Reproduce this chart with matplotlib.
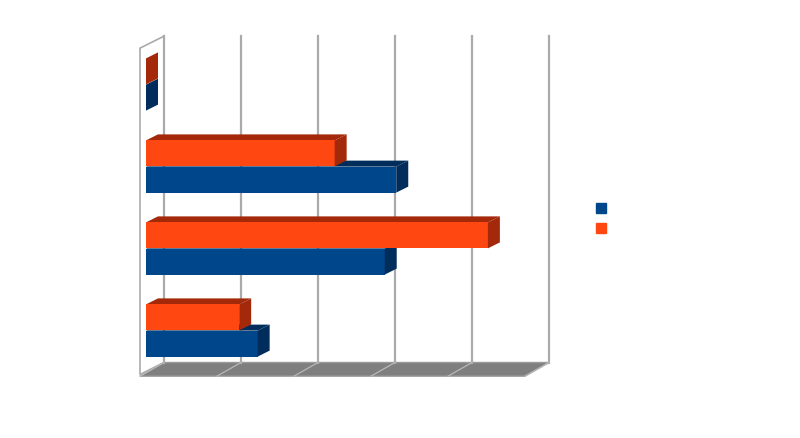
import matplotlib.pyplot as plt
from matplotlib.patches import Polygon, Patch

# values (one gridline step = 1 unit), top category first
blue_vals = [0.0, 3.25, 3.10, 1.45]
orange_vals = [0.0, 2.45, 4.44, 1.21]
grid_vals = [0, 1, 2, 3, 4, 5]
series_names = ["Series 1", "Series 2"]

blue_front, blue_dark = "#00468a", "#002d5c"
orange_front, orange_dark = "#ff4712", "#a3290a"
grid_col = "#aaaaaa"

PX, PY = 77.0, 82.0          # pixels per value unit / per category
BAR_H = 0.317
DEPTH = 12                   # bar depth in pixels
Y_TOP, Y_FLOOR = -0.48, 3.5


def shift(v, y, z):
    # push a point back into the chart by z pixels (oblique projection)
    return v + z / PX, y - z / 2.0 / PY


fig = plt.figure(figsize=(8, 4.39), dpi=100)
ax = fig.add_axes([0, 0, 1, 1])
ax.set_xlim(-146 / PX, 654 / PX)
ax.set_ylim(353.5 / PY, -85.5 / PY)
ax.axis("off")

# left wall
wall = [shift(0, Y_FLOOR, -6), shift(0, Y_TOP, -6), shift(0, Y_TOP, 18), shift(0, Y_FLOOR, 18)]
ax.add_patch(Polygon(wall, closed=True, facecolor="white", edgecolor=grid_col, lw=1.2, zorder=1))

# floor
floor = [shift(0, Y_FLOOR + 0.02, -6), shift(grid_vals[-1], Y_FLOOR + 0.02, -6),
         shift(grid_vals[-1], Y_FLOOR, 18), shift(0, Y_FLOOR, 18)]
ax.add_patch(Polygon(floor, closed=True, facecolor="#7f7f7f", edgecolor="#9a9a9a", lw=1, zorder=1))

# gridlines on the back wall and across the floor
for g in grid_vals:
    b0 = shift(g, Y_FLOOR, 18)
    b1 = shift(g, Y_TOP, 18)
    f0 = shift(g, Y_FLOOR + 0.02, -6)
    ax.plot([b0[0], b1[0]], [b0[1], b1[1]], color=grid_col, lw=1.6, zorder=2)
    ax.plot([b0[0], f0[0]], [b0[1], f0[1]], color="#b8b8b8", lw=0.9, zorder=2)


def bar3d(y, v, front, dark):
    top, bot = y - BAR_H / 2, y + BAR_H / 2
    top_face = [(0, top), (v, top), shift(v, top, DEPTH), shift(0, top, DEPTH)]
    side_face = [(v, top), (v, bot), shift(v, bot, DEPTH), shift(v, top, DEPTH)]
    ax.add_patch(Polygon(top_face, closed=True, facecolor=dark, edgecolor="none", zorder=3))
    ax.barh(y, v, height=BAR_H, left=0, color=front, edgecolor="none", zorder=4)
    ax.add_patch(Polygon(side_face, closed=True, facecolor=dark, edgecolor="none", zorder=4))


for k in range(len(blue_vals)):
    bar3d(k + 0.16, blue_vals[k], blue_front, blue_dark)
    bar3d(k - 0.16, orange_vals[k], orange_front, orange_dark)

handles = [Patch(color=blue_front), Patch(color=orange_front)]
ax.legend(handles, series_names, loc="upper left", bbox_to_anchor=(589 / 800, 1 - 196 / 439),
          bbox_transform=fig.transFigure, frameon=False, borderpad=0, fontsize=10,
          handlelength=0.75, handleheight=0.75, labelspacing=0.4, labelcolor="white")

fig.savefig("out.png", dpi=100, facecolor="white")
